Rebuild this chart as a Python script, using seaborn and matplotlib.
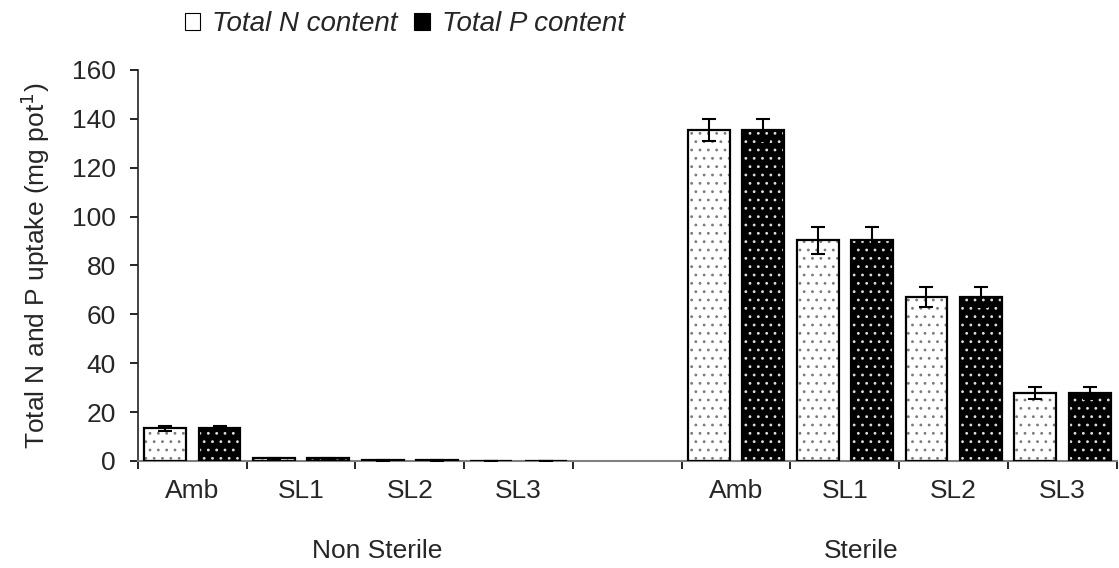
import numpy as np
import pandas as pd
import matplotlib
matplotlib.use("Agg")
import matplotlib.pyplot as plt
import matplotlib.transforms as mtrans
from matplotlib.patches import Patch, Rectangle
import seaborn as sns

# ---- data ----
groups = ["Non Sterile", "Sterile"]
treatments = ["Amb", "SL1", "SL2", "SL3"]
series = ["Total N content", "Total P content"]
n_content = [13.4, 1.1, 0.25, 0.15, 135.5, 90.3, 67.2, 27.9]
n_err = [1.0, 0.3, 0.05, 0.05, 4.6, 5.4, 4.1, 2.5]
p_content = [13.4, 1.1, 0.25, 0.15, 135.5, 90.3, 67.2, 27.9]
p_err = [1.0, 0.3, 0.05, 0.05, 4.6, 5.4, 4.1, 2.5]
y_ticks = [0, 20, 40, 60, 80, 100, 120, 140, 160]

keys = [f"{g}|{t}" for g in groups for t in treatments]
order = keys[:4] + ["gap"] + keys[4:]
df = pd.DataFrame({
    "key": keys * 2,
    "series": [series[0]] * 8 + [series[1]] * 8,
    "value": n_content + p_content,
})
errs = {series[0]: n_err, series[1]: p_err}

sns.set_theme(style="white")
plt.rcParams["font.family"] = ["Liberation Sans", "DejaVu Sans"]
plt.rcParams["hatch.linewidth"] = 0.8

FS = 19

fig = plt.figure(figsize=(11.19, 5.68), dpi=100)
ax = fig.add_axes([0.1233, 0.1884, 0.8747, 0.6884])

sns.barplot(data=df, x="key", y="value", hue="series", order=order,
            hue_order=series, palette=["white", "black"], width=1.0, gap=0.23,
            errorbar=None, legend=False, ax=ax, linewidth=0, saturation=1)

for cont, s in zip(ax.containers, series):
    bars = sorted(cont.patches, key=lambda p: p.get_x())
    for i, b in enumerate(bars):
        if s == series[0]:
            b.set_facecolor("white")
            b.set_edgecolor("#7a7a7a")
            b.set_hatch("..")
        else:
            b.set_facecolor("black")
            b.set_edgecolor("#e0e0e0")
            b.set_hatch("..")
        b.set_linewidth(0)
        ax.add_patch(Rectangle((b.get_x(), b.get_y()), b.get_width(), b.get_height(),
                               fill=False, edgecolor="black", linewidth=1.6, zorder=3))
        cx = b.get_x() + b.get_width() / 2
        ax.errorbar(cx, b.get_height(), yerr=errs[s][i], fmt="none", ecolor="black",
                    elinewidth=1.5, capsize=5, capthick=1.5, zorder=4)

ax.set_ylim(0, 160)
ax.set_xlim(-0.5, 8.5)
ax.set_yticks(y_ticks)
ax.set_yticklabels([str(v) for v in y_ticks], fontsize=FS)
ax.set_xticks(range(9))
ax.set_xticklabels(treatments + [""] + treatments, fontsize=FS)
ax.set_xticks(np.arange(-0.5, 9, 1.0), minor=True)
ax.tick_params(axis="x", which="major", length=0, pad=13)
ax.tick_params(axis="x", which="minor", length=6, width=1.2, color="black", direction="out", bottom=True)
ax.tick_params(axis="y", length=6, width=1.2, color="black", direction="out", left=True, pad=10)
ax.set_xlabel("")
ax.set_ylabel("Total N and P uptake (mg pot$^{1}$)", fontsize=FS, labelpad=14)

for side in ["top", "right"]:
    ax.spines[side].set_visible(False)
ax.spines["left"].set_color("#222222")
ax.spines["left"].set_linewidth(1.2)
ax.spines["bottom"].set_color("#808080")
ax.spines["bottom"].set_linewidth(1.5)

trans = mtrans.blended_transform_factory(ax.transData, ax.transAxes)
ax.text(1.7, -0.23, groups[0], transform=trans, ha="center", va="center", fontsize=FS)
ax.text(6.15, -0.23, groups[1], transform=trans, ha="center", va="center", fontsize=FS)

handles = [Patch(facecolor="white", edgecolor="black", linewidth=0.8),
           Patch(facecolor="black", edgecolor="black", linewidth=0.8)]
fig.legend(handles, series, loc="upper left", bbox_to_anchor=(0.150, 1.01), ncol=2,
           frameon=False, prop={"style": "italic", "size": FS + 1},
           handlelength=0.55, handleheight=0.55, handletextpad=0.45, columnspacing=0.6,
           borderaxespad=0.2)

fig.savefig("out.png", dpi=100)
